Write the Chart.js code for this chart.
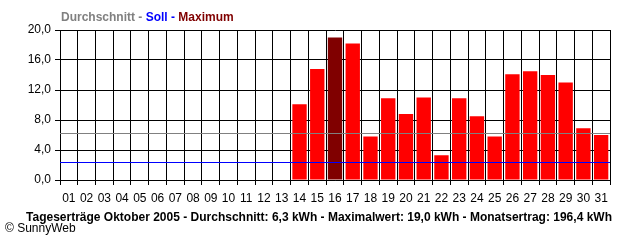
<!DOCTYPE html>
<html>
<head>
<meta charset="utf-8">
<title>Tageserträge Oktober 2005</title>
<script src="https://cdn.jsdelivr.net/npm/chart.js@4/dist/chart.umd.min.js"></script>
<style>
    html, body { margin: 0; padding: 0; background: #fff; }
    #wrap { position: relative; width: 640px; height: 240px; }
</style>
</head>
<body>
<div id="wrap"><canvas id="ertragChart" width="640" height="240"></canvas></div>
<script>
// Chart data
const days = ['01', '02', '03', '04', '05', '06', '07', '08', '09', '10', '11', '12', '13', '14', '15', '16',
    '17', '18', '19', '20', '21', '22', '23', '24', '25', '26', '27', '28', '29', '30', '31'];
const dailyYield = [null, null, null, null, null, null, null, null, null, null, null, null, null,
    10.1, 14.8, 19.0, 18.2, 5.8, 10.9, 8.8, 11.0, 3.3, 10.9, 8.5, 5.8, 14.1, 14.5, 14.0, 13.0, 6.9, 6.0];
const average = 6.3;
const target = 2.4;
const yTicks = [0, 4, 8, 12, 16, 20];
const yTickLabels = ['0,0', '4,0', '8,0', '12,0', '16,0', '20,0'];
const legendParts = ['Durchschnitt -', ' Soll -', ' Maximum'];
const footerText = 'Tageserträge Oktober 2005 - Durchschnitt: 6,3 kWh - Maximalwert: 19,0 kWh - Monatsertrag: 196,4 kWh';
const copyrightText = '© SunnyWeb';

const FONT = '"Liberation Sans", Arial, sans-serif';
const maxYield = Math.max(...dailyYield.filter(v => v !== null));

// Average / target lines across the whole plot
const refLinesPlugin = {
    id: 'refLines',
    afterDatasetsDraw(chart) {
        const { ctx, chartArea, scales } = chart;
        const lines = [
            { value: average, color: '#808080' },
            { value: target, color: '#0000ff' }
        ];
        ctx.save();
        ctx.lineWidth = 1;
        lines.forEach(line => {
            const y = Math.round(scales.y.getPixelForValue(line.value)) + 0.5;
            ctx.strokeStyle = line.color;
            ctx.beginPath();
            ctx.moveTo(chartArea.left, y);
            ctx.lineTo(chartArea.right, y);
            ctx.stroke();
        });
        ctx.restore();
    }
};

// Header legend and footer texts
const textPlugin = {
    id: 'texts',
    afterDraw(chart) {
        const ctx = chart.ctx;
        const colors = ['#808080', '#0000ff', '#800000'];
        ctx.save();
        ctx.font = 'bold 12px ' + FONT;
        ctx.textBaseline = 'alphabetic';
        ctx.textAlign = 'left';
        let x = 61;
        legendParts.forEach((part, i) => {
            ctx.fillStyle = colors[i];
            ctx.fillText(part, x, 21);
            x += ctx.measureText(part).width;
        });

        ctx.fillStyle = '#000';
        ctx.textAlign = 'center';
        ctx.fillText(footerText, 319, 221);

        ctx.font = '12px ' + FONT;
        ctx.textAlign = 'left';
        ctx.fillText(copyrightText, 5, 232);
        ctx.restore();
    }
};

new Chart(document.getElementById('ertragChart'), {
    type: 'bar',
    data: {
        labels: days,
        datasets: [{
            data: dailyYield,
            backgroundColor: ctx => ctx.raw === maxYield ? '#800000' : '#ff0000',
            borderWidth: 0,
            barPercentage: 0.81,
            categoryPercentage: 1.0
        }]
    },
    options: {
        responsive: false,
        animation: false,
        devicePixelRatio: 1,
        layout: { padding: { top: 30, right: 30, bottom: 30, left: 0 } },
        plugins: {
            legend: { display: false },
            tooltip: { enabled: false }
        },
        scales: {
            x: {
                offset: true,
                grid: { color: '#000', lineWidth: 1, offset: true, tickLength: 5 },
                border: { color: '#000' },
                ticks: { color: '#000', font: { family: FONT, size: 12 }, padding: 6, maxRotation: 0, autoSkip: false },
                afterFit: scale => { scale.height = 30; }
            },
            y: {
                min: 0,
                max: 20,
                afterBuildTicks: scale => { scale.ticks = yTicks.map(v => ({ value: v })); },
                grid: { color: '#000', lineWidth: 1, tickLength: 5 },
                border: { color: '#000' },
                ticks: {
                    color: '#000',
                    font: { family: FONT, size: 12 },
                    padding: 4,
                    callback: (value) => yTickLabels[yTicks.indexOf(value)]
                },
                afterFit: scale => { scale.width = 60; }
            }
        }
    },
    plugins: [refLinesPlugin, textPlugin]
});
</script>
</body>
</html>
